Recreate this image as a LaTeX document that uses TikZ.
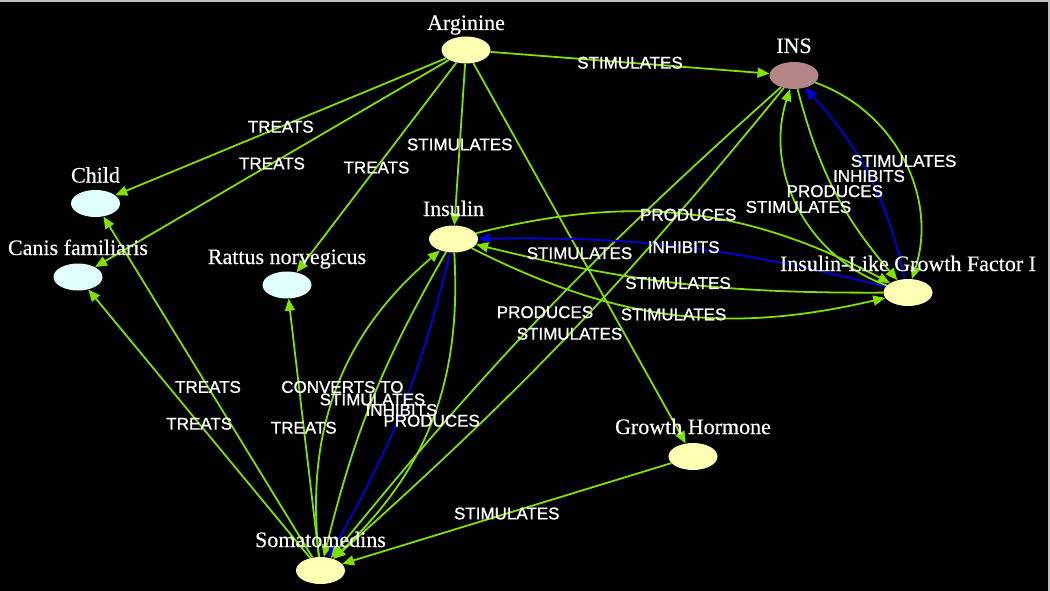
\documentclass[tikz,border=0pt]{standalone}
\usepackage{fontspec}
\setmainfont[FakeBold=0.4]{Liberation Serif}
\newfontfamily\edgefont[FakeBold=1]{Liberation Sans}
\usetikzlibrary{arrows.meta,shapes.geometric}
\definecolor{eg}{RGB}{128,224,0}
\definecolor{eb}{RGB}{0,0,220}
\definecolor{ny}{RGB}{255,255,180}
\definecolor{nc}{RGB}{224,255,255}
\definecolor{nr}{RGB}{178,134,134}
\definecolor{frame}{RGB}{190,190,190}
\begin{document}
\begin{tikzpicture}[x=1pt,y=-1pt,
  nd/.style={ellipse,minimum width=49pt,minimum height=27pt,inner sep=0pt},
  yel/.style={nd,fill=ny},
  cya/.style={nd,fill=nc},
  ros/.style={nd,fill=nr},
  nlab/.style={anchor=base,text=white,font=\fontsize{22}{24}\selectfont,inner sep=0pt},
  elab/.style={text=white,font=\edgefont\fontsize{17}{19}\selectfont,inner sep=0pt},
  ge/.style={draw=eg,line width=1.8pt,-{Triangle[length=12pt,width=10pt]}},
  be/.style={draw=eb,line width=1.8pt,-{Triangle[length=12pt,width=10pt]}},
]
\fill[black] (0,0) rectangle (1050,591);
\useasboundingbox (0,0) rectangle (1050,591);
\draw[frame,line width=2pt] (0,1) -- (1049,1) -- (1049,591);

% nodes
\node[yel] (arg) at (466,50) {};
\node[ros] (ins) at (794,75.5) {};
\node[cya] (child) at (95.5,203.5) {};
\node[cya] (canis) at (78,277) {};
\node[cya] (rattus) at (287,285) {};
\node[yel] (insulin) at (453.5,239) {};
\node[yel] (igf) at (908,292.5) {};
\node[yel] (gh) at (693,456.5) {};
\node[yel] (som) at (320.5,570.5) {};

% edges
\draw[ge] (arg) -- coordinate[midway] (l1) (ins);
\draw[ge] (arg) -- coordinate[midway] (l2) (child);
\draw[ge] (arg) -- coordinate[midway] (l3) (canis);
\draw[ge] (arg) -- coordinate[midway] (l4) (rattus);
\draw[ge] (arg) -- coordinate[midway] (l5) (insulin);
\draw[ge] (arg) -- coordinate[midway] (l6) (gh);
\draw[ge] (som) -- coordinate[midway] (l7) (child);
\draw[ge] (som) -- coordinate[midway] (l8) (canis);
\draw[ge] (som) -- coordinate[midway] (l9) (rattus);
\draw[ge] (som) to[bend left=28] coordinate[midway] (l10) (insulin);
\draw[ge] (insulin) to[bend right=8] coordinate[midway] (l11) (som);
\draw[be] (insulin) to[bend left=8] coordinate[midway] (l12) (som);
\draw[ge] (insulin) to[bend left=25] coordinate[midway] (l13) (som);
\draw[ge] (ins) to[bend right=4.5] coordinate[midway] (l14) (som);
\draw[ge] (ins) to[bend left=4.5] coordinate[midway] (l15) (som);
\draw[ge] (gh) -- coordinate[midway] (l16) (som);
\draw[ge] (insulin) to[bend left=21] coordinate[midway] (l17) (igf);
\draw[be] (igf) to[bend right=7.5] coordinate[midway] (l18) (insulin);
\draw[ge] (igf) to[bend left=7] coordinate[midway] (l19) (insulin);
\draw[ge] (insulin) to[bend right=20] coordinate[midway] (l20) (igf);
\draw[ge] (igf) to[bend left=44] coordinate[midway] (l21) (ins);
\draw[ge] (ins) to[bend right=13] coordinate[midway] (l22) (igf);
\draw[be] (igf) to[bend right=14.5] coordinate[midway] (l23) (ins);
\draw[ge] (ins) to[bend left=44] coordinate[midway] (l24) (igf);

% edge labels
\node[elab] at (l1) {STIMULATES};
\node[elab] at (l2) {TREATS};
\node[elab] at (l3) {TREATS};
\node[elab] at (l4) {TREATS};
\node[elab] at (l5) {STIMULATES};
\node[elab] at (l6) {STIMULATES};
\node[elab] at (l7) {TREATS};
\node[elab] at (l8) {TREATS};
\node[elab] at (l9) {TREATS};
\node[elab] at ([xshift=5pt]l10) {CONVERTS TO};
\node[elab] at (l11) {STIMULATES};
\node[elab] at (l12) {INHIBITS};
\node[elab] at (l13) {PRODUCES};
\node[elab] at (l14) {PRODUCES};
\node[elab] at (l15) {STIMULATES};
\node[elab] at (l16) {STIMULATES};
\node[elab] at (l17) {PRODUCES};
\node[elab] at (l18) {INHIBITS};
\node[elab] at (l19) {STIMULATES};
\node[elab] at (l20) {STIMULATES};
\node[elab] at (l21) {STIMULATES};
\node[elab] at (l22) {PRODUCES};
\node[elab] at (l23) {INHIBITS};
\node[elab] at (l24) {STIMULATES};

% node labels
\node[nlab] (targ) at ([yshift=20pt]arg.center) {Arginine};
\node[nlab] (tins) at ([yshift=22.5pt]ins.center) {INS};
\node[nlab] (tchild) at ([yshift=21pt]child.center) {Child};
\node[nlab] (tcanis) at ([yshift=22pt]canis.center) {Canis familiaris};
\node[nlab] (trattus) at ([yshift=21pt]rattus.center) {Rattus norvegicus};
\node[nlab] (tinsulin) at ([yshift=23pt]insulin.center) {Insulin};
\node[nlab] (tigf) at ([yshift=21.5pt]igf.center) {Insulin-Like Growth Factor I};
\node[nlab] (tgh) at ([yshift=22.5pt]gh.center) {Growth Hormone};
\node[nlab] (tsom) at ([yshift=23.5pt]som.center) {Somatomedins};
\end{tikzpicture}
\end{document}
